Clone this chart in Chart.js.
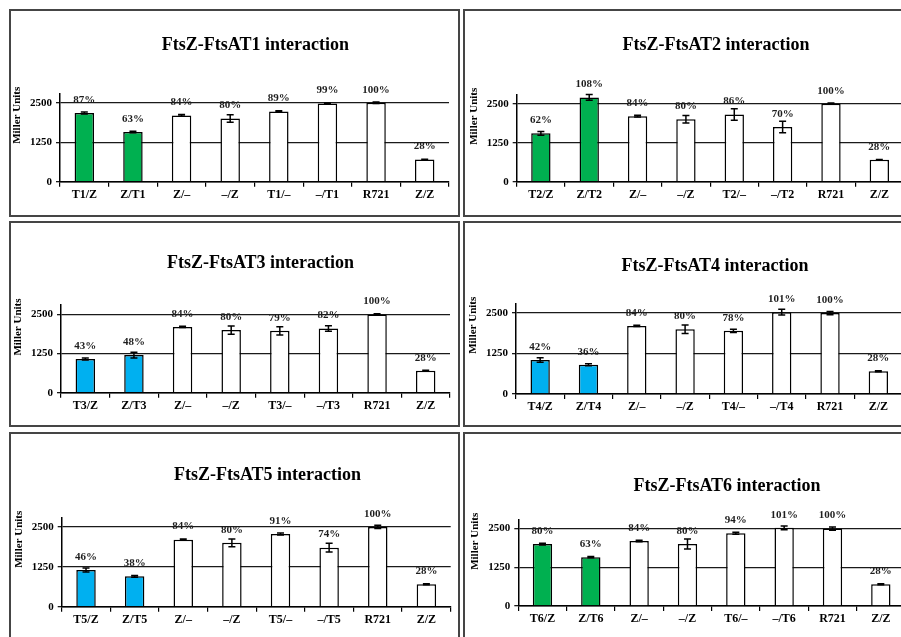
<!DOCTYPE html>
<html><head><meta charset="utf-8">
<script src="https://cdn.jsdelivr.net/npm/chart.js@4.4.0/dist/chart.umd.min.js"></script>
<style>
html,body{margin:0;padding:0;background:#fff;width:901px;height:637px;overflow:hidden;position:relative}
.panel{position:absolute;box-sizing:border-box;border:2px solid #454545;}
canvas{position:absolute}
</style></head><body>
<script>
// ---------- DATA ----------
const titles = ["FtsZ-FtsAT1 interaction","FtsZ-FtsAT2 interaction","FtsZ-FtsAT3 interaction",
                "FtsZ-FtsAT4 interaction","FtsZ-FtsAT5 interaction","FtsZ-FtsAT6 interaction"];
const yTitle = "Miller Units";
const yTicks = [0, 1250, 2500];
const yMax = 2800;

const cats1 = ["T1/Z","Z/T1","Z/–","–/Z","T1/–","–/T1","R721","Z/Z"];
const cats2 = ["T2/Z","Z/T2","Z/–","–/Z","T2/–","–/T2","R721","Z/Z"];
const cats3 = ["T3/Z","Z/T3","Z/–","–/Z","T3/–","–/T3","R721","Z/Z"];
const cats4 = ["T4/Z","Z/T4","Z/–","–/Z","T4/–","–/T4","R721","Z/Z"];
const cats5 = ["T5/Z","Z/T5","Z/–","–/Z","T5/–","–/T5","R721","Z/Z"];
const cats6 = ["T6/Z","Z/T6","Z/–","–/Z","T6/–","–/T6","R721","Z/Z"];

const vals1 = [2175,1575,2100,2000,2225,2475,2500,700];
const vals2 = [1550,2700,2100,2000,2150,1750,2500,700];
const vals3 = [1075,1200,2100,2000,1975,2050,2500,700];
const vals4 = [1050,900,2100,2000,1950,2525,2500,700];
const vals5 = [1150,950,2100,2000,2275,1850,2500,700];
const vals6 = [2000,1575,2100,2000,2350,2525,2500,700];

const errs1 = [30,25,25,120,25,20,25,15];
const errs2 = [60,90,25,120,185,185,20,15];
const errs3 = [30,90,20,130,130,90,20,15];
const errs4 = [70,30,20,130,50,90,50,15];
const errs5 = [60,30,20,120,30,140,50,15];
const errs6 = [30,20,25,160,30,60,50,15];

const pcts1 = ["87%","63%","84%","80%","89%","99%","100%","28%"];
const pcts2 = ["62%","108%","84%","80%","86%","70%","100%","28%"];
const pcts3 = ["43%","48%","84%","80%","79%","82%","100%","28%"];
const pcts4 = ["42%","36%","84%","80%","78%","101%","100%","28%"];
const pcts5 = ["46%","38%","84%","80%","91%","74%","100%","28%"];
const pcts6 = ["80%","63%","84%","80%","94%","101%","100%","28%"];

const highlight = ["#00B050","#00B050","#00B0F0","#00B0F0","#00B0F0","#00B050"];

const cats = [cats1,cats2,cats3,cats4,cats5,cats6];
const vals = [vals1,vals2,vals3,vals4,vals5,vals6];
const errs = [errs1,errs2,errs3,errs4,errs5,errs6];
const pcts = [pcts1,pcts2,pcts3,pcts4,pcts5,pcts6];

// ---------- LAYOUT (page pixels) ----------
const layouts = [
  {bx:9,  by:9,   bw:451, bh:208, axL:60,    axT:93.3,  axZ:181.7, axR:449,   tX:255.4, tY:45},
  {bx:463,by:9,   bw:451, bh:208, axL:516.7, axT:94.3,  axZ:181.7, axR:903.5, tX:716,   tY:45},
  {bx:9,  by:221, bw:451, bh:206, axL:61,    axT:305,   axZ:392.7, axR:450,   tX:260.5, tY:263.3},
  {bx:463,by:221, bw:451, bh:206, axL:516,   axT:303.3, axZ:394,   axR:902.5, tX:715,   tY:266.7},
  {bx:9,  by:432, bw:451, bh:210, axL:61.7,  axT:517.3, axZ:606.7, axR:450.7, tX:267.5, tY:475},
  {bx:463,by:432, bw:451, bh:210, axL:518.3, axT:519.3, axZ:606,   axR:905,   tX:727,   tY:486}
];
const SERIF = "'Liberation Serif','Times New Roman',serif";

layouts.forEach((L, i) => {
  const div = document.createElement('div');
  div.className = 'panel';
  Object.assign(div.style, {left:L.bx+'px', top:L.by+'px', width:L.bw+'px', height:L.bh+'px'});
  document.body.appendChild(div);
  const cx = L.bx + 2, cy = L.by + 2, W = L.bw - 4, H = L.bh - 4;
  const cv = document.createElement('canvas');
  cv.width = W; cv.height = H;
  Object.assign(cv.style, {left:cx+'px', top:cy+'px', width:W+'px', height:H+'px'});
  document.body.appendChild(cv);

  const left = L.axL - cx, top = L.axT - cy, bottom = L.axZ - cy, right = L.axR - cx;

  const decor = {
    id: 'decor' + i,
    afterDatasetsDraw(chart) {
      const ctx = chart.ctx, ys = chart.scales.y, meta = chart.getDatasetMeta(0);
      ctx.save();
      ctx.strokeStyle = '#000'; ctx.lineWidth = 1.5;
      meta.data.forEach((bar, j) => {
        const v = vals[i][j], e = errs[i][j];
        const yt = ys.getPixelForValue(v + e), yb = ys.getPixelForValue(v - e);
        ctx.beginPath();
        ctx.moveTo(bar.x, yt); ctx.lineTo(bar.x, yb);
        ctx.moveTo(bar.x - 3.5, yt); ctx.lineTo(bar.x + 3.5, yt);
        ctx.moveTo(bar.x - 3.5, yb); ctx.lineTo(bar.x + 3.5, yb);
        ctx.stroke();
      });
      ctx.fillStyle = '#1e1e1e';
      ctx.font = "bold 11px " + SERIF;
      ctx.textAlign = 'center'; ctx.textBaseline = 'middle';
      meta.data.forEach((bar, j) => {
        ctx.fillText(pcts[i][j], bar.x, ys.getPixelForValue(vals[i][j]) - 13);
      });
      ctx.restore();
    },
    afterDraw(chart) {
      const ctx = chart.ctx;
      ctx.save();
      ctx.fillStyle = '#000';
      ctx.font = "bold 18px " + SERIF;
      ctx.textAlign = 'center'; ctx.textBaseline = 'middle';
      ctx.fillText(titles[i], L.tX - cx, L.tY - cy);
      ctx.font = "bold 11px " + SERIF;
      ctx.translate(L.axL - 43 - cx, chart.chartArea.top + 22);
      ctx.rotate(-Math.PI / 2);
      ctx.fillText(yTitle, 0, 0);
      ctx.restore();
    }
  };

  new Chart(cv, {
    type: 'bar',
    data: {
      labels: cats[i],
      datasets: [{
        data: vals[i],
        backgroundColor: vals[i].map((v, j) => j < 2 ? highlight[i] : '#ffffff'),
        borderColor: '#000', borderWidth: 1.5,
        barPercentage: 0.4, categoryPercentage: 1
      }]
    },
    options: {
      responsive: false, animation: false, devicePixelRatio: 1,
      layout: {padding: {left: 0, top: top, right: W - right, bottom: 0}},
      plugins: {legend: {display: false}, title: {display: false}, tooltip: {enabled: false}},
      scales: {
        x: {
          offset: true,
          grid: {offset: true, drawOnChartArea: false, drawTicks: true, tickLength: 5, color: '#000', lineWidth: 1.2},
          border: {color: '#000', width: 1.5},
          ticks: {font: {family: SERIF, size: 12, weight: 'bold'}, color: '#000', padding: 1, maxRotation: 0, autoSkip: false},
          afterFit: s => { s.height = H - bottom; }
        },
        y: {
          min: 0, max: yMax,
          afterBuildTicks: s => { s.ticks = yTicks.map(v => ({value: v})); },
          grid: {color: '#1a1a1a', lineWidth: 1.3, tickLength: 4},
          border: {color: '#000', width: 1.5},
          ticks: {font: {family: SERIF, size: 11, weight: 'bold'}, color: '#000', padding: 4, callback: v => String(v)},
          afterFit: s => { s.width = left; }
        }
      }
    },
    plugins: [decor]
  });
});
</script>
</body></html>
